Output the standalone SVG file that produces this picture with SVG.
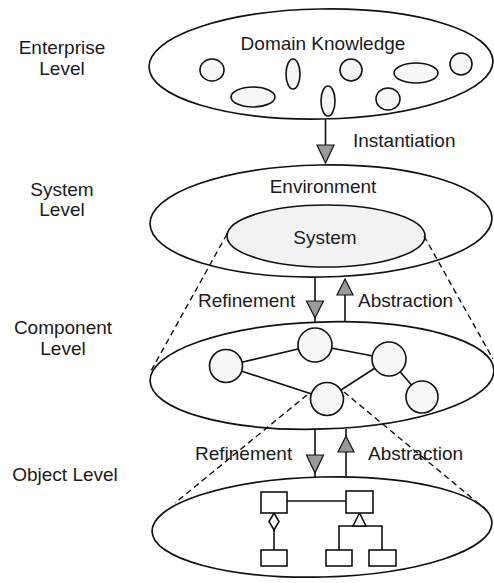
<svg xmlns="http://www.w3.org/2000/svg" width="494" height="583" viewBox="0 0 494 583">
  <style>
    .lvl { fill: #fff; stroke: #111; stroke-width: 1.7; }
    .blob { fill: #f6f6f6; stroke: #111; stroke-width: 1.6; }
    .sys { fill: #f2f2f2; stroke: #111; stroke-width: 1.6; }
    .ln { stroke: #111; stroke-width: 1.6; fill: none; }
    .dash { stroke: #111; stroke-width: 1.4; fill: none; stroke-dasharray: 6 4; }
    .head { fill: #9a9a9a; stroke: #111; stroke-width: 1.2; stroke-linejoin: miter; }
    .box { fill: #fff; stroke: #111; stroke-width: 1.6; }
    text { font-family: "Liberation Sans", Arial, sans-serif; font-size: 19px; fill: #1a1a1a; }
    .c { text-anchor: middle; }
  </style>

  <!-- level captions -->
  <g id="captions">
    <text class="c" x="62" y="54">Enterprise</text>
    <text class="c" x="62" y="75">Level</text>
    <text class="c" x="62" y="196">System</text>
    <text class="c" x="62" y="216">Level</text>
    <text class="c" x="63" y="334">Component</text>
    <text class="c" x="63" y="355">Level</text>
    <text class="c" x="65" y="481">Object Level</text>
  </g>

  <!-- enterprise level: domain knowledge -->
  <g id="enterprise">
    <ellipse class="lvl" cx="321" cy="64" rx="172" ry="55" transform="rotate(-1 321 64)"/>
    <text class="c" x="323" y="50">Domain Knowledge</text>
    <ellipse class="blob" cx="212" cy="70" rx="12" ry="11"/>
    <ellipse class="blob" cx="293" cy="74" rx="7" ry="15"/>
    <ellipse class="blob" cx="351" cy="70" rx="11" ry="11"/>
    <ellipse class="blob" cx="416" cy="73" rx="22" ry="10"/>
    <ellipse class="blob" cx="461" cy="64" rx="11" ry="11"/>
    <ellipse class="blob" cx="253" cy="97" rx="22" ry="10"/>
    <ellipse class="blob" cx="328" cy="101" rx="7" ry="15"/>
    <ellipse class="blob" cx="388" cy="99" rx="12" ry="11"/>
  </g>

  <!-- system level -->
  <g id="system-level">
    <ellipse class="lvl" cx="321" cy="221" rx="171" ry="56" transform="rotate(-1 321 221)"/>
    <text class="c" x="323" y="193">Environment</text>
    <ellipse class="sys" cx="326" cy="236" rx="99" ry="31"/>
    <text class="c" x="325" y="244">System</text>
  </g>

  <!-- component level -->
  <g id="component-level">
    <ellipse class="lvl" cx="322" cy="375.5" rx="172" ry="53.5" transform="rotate(-1.8 322 375.5)"/>
    <g class="ln">
      <line x1="226" y1="366" x2="315" y2="345"/>
      <line x1="315" y1="345" x2="389" y2="359"/>
      <line x1="226" y1="366" x2="327" y2="399"/>
      <line x1="327" y1="399" x2="389" y2="359"/>
      <line x1="389" y1="359" x2="422" y2="397"/>
    </g>
    <circle class="blob" cx="226" cy="366" r="16.5"/>
    <circle class="blob" cx="315" cy="345" r="17"/>
    <circle class="blob" cx="389" cy="359" r="17"/>
    <circle class="blob" cx="327" cy="399" r="16.5"/>
    <circle class="blob" cx="422" cy="397" r="16"/>
  </g>

  <!-- object level: class diagram -->
  <g id="object-level">
    <ellipse class="lvl" cx="322" cy="527" rx="170" ry="50" transform="rotate(-1.5 322 527)"/>
    <g class="ln">
      <line x1="287" y1="501" x2="346" y2="501"/>
      <line x1="274" y1="530" x2="274" y2="550"/>
      <polyline points="339,550 339,526 382,526 382,550"/>
    </g>
    <polygon class="box" points="274,513 279,521.5 274,530 269,521.5"/>
    <polygon class="box" points="359.5,513 353,526 366,526"/>
    <rect class="box" x="261" y="492" width="26" height="21"/>
    <rect class="box" x="346" y="491" width="27" height="22"/>
    <rect class="box" x="261" y="550" width="26" height="16"/>
    <rect class="box" x="326" y="550" width="26" height="16"/>
    <rect class="box" x="369" y="550" width="27" height="16"/>
  </g>

  <!-- connectors between levels -->
  <g id="connectors">
    <!-- instantiation -->
    <line class="ln" x1="325.5" y1="119" x2="325.5" y2="145"/>
    <polygon class="head" points="317,145 334,145 325.5,163"/>
    <text x="353" y="147">Instantiation</text>

    <!-- system / component -->
    <line class="dash" x1="227" y1="234" x2="151" y2="371"/>
    <line class="dash" x1="424" y1="236" x2="493" y2="359"/>
    <line class="ln" x1="315" y1="277" x2="315" y2="322"/>
    <polygon class="head" points="306.5,301 323.5,301 315,318"/>
    <line class="ln" x1="345" y1="295" x2="345" y2="322"/>
    <polygon class="head" points="337,295 353,295 345,279"/>
    <text x="198" y="307">Refinement</text>
    <text x="358" y="307">Abstraction</text>

    <!-- component / object -->
    <line class="dash" x1="307" y1="395" x2="175" y2="503"/>
    <line class="dash" x1="344" y1="392" x2="490" y2="513"/>
    <line class="ln" x1="315" y1="429" x2="315" y2="477"/>
    <polygon class="head" points="306.5,455 323.5,455 315,473"/>
    <line class="ln" x1="346" y1="429" x2="346" y2="477"/>
    <polygon class="head" points="338,452 354,452 346,436"/>
    <text x="195" y="460">Refinement</text>
    <text x="368" y="460">Abstraction</text>
  </g>
</svg>
